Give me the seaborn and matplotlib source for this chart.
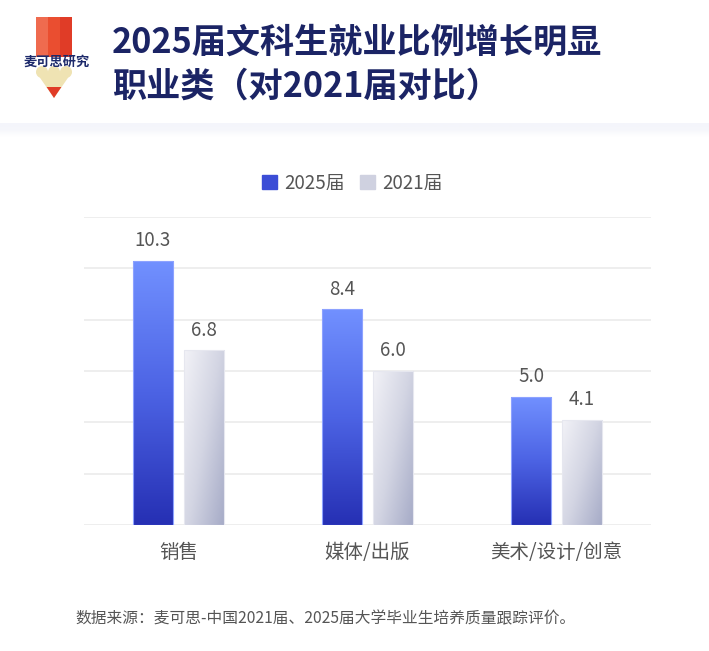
import numpy as np
import pandas as pd
import matplotlib
matplotlib.use("Agg")
import matplotlib.pyplot as plt
import seaborn as sns
from matplotlib.patches import Rectangle, Polygon, Circle, Patch
from matplotlib.colors import LinearSegmentedColormap

# ---------------- data ----------------
categories = ["销售", "媒体/出版", "美术/设计/创意"]
series_names = ["2025届", "2021届"]
values_2025 = [10.3, 8.4, 5.0]
values_2021 = [6.8, 6.0, 4.1]
yticks = [0, 2, 4, 6, 8, 10, 12]

title_lines = ["2025届文科生就业比例增长明显", "职业类（对2021届对比）"]
logo_text = "麦可思研究"
source_text = "数据来源：麦可思-中国2021届、2025届大学毕业生培养质量跟踪评价。"

df = pd.DataFrame({
    "cat": categories * 2,
    "series": [series_names[0]] * 3 + [series_names[1]] * 3,
    "value": values_2025 + values_2021,
})

sns.set_theme(style="white")
plt.rcParams["font.family"] = ["Noto Sans CJK SC", "DejaVu Sans"]

W, H = 709, 651
fig = plt.figure(figsize=(W / 100, H / 100), dpi=100)
fig.patch.set_facecolor("white")

# ---------------- background / header ----------------
bg = fig.add_axes([0, 0, 1, 1], zorder=0)
bg.set_xlim(0, W)
bg.set_ylim(H, 0)
bg.axis("off")

band = np.linspace(0, 1, 20).reshape(-1, 1)
band_cmap = LinearSegmentedColormap.from_list("band", ["#f4f5fb", "#f6f7fb", "#ffffff"])
bg.imshow(band, cmap=band_cmap, extent=[0, W, 137, 123], aspect="auto", zorder=1)

# logo pencil
stripe_cols = ["#ef6b4f", "#ea4e30", "#e03c27"]
for i, c in enumerate(stripe_cols):
    bg.add_patch(Rectangle((36 + i * 12, 17), 12, 40, facecolor=c, edgecolor="none", zorder=2))
beige = "#efe3b3"
for cx in (42, 54, 66):
    bg.add_patch(Circle((cx, 72), 6, facecolor=beige, edgecolor="none", zorder=2))
bg.add_patch(Polygon([(36, 72), (72, 72), (54, 98)], closed=True, facecolor=beige,
                     edgecolor="none", zorder=2))
bg.add_patch(Polygon([(46.6, 87), (61.4, 87), (54, 98)], closed=True, facecolor="#e03c27",
                     edgecolor="none", zorder=3))
bg.text(57, 61.5, logo_text, ha="center", va="center", fontsize=9.5, fontweight="bold",
        color="#1d2a6b", zorder=4)

# title
bg.text(112, 42, title_lines[0], ha="left", va="center", fontsize=24.6, fontweight="bold",
        color="#1b2465", zorder=4)
bg.text(112, 86, title_lines[1], ha="left", va="center", fontsize=24.6, fontweight="bold",
        color="#1b2465", zorder=4)

# source
bg.text(75, 619, source_text, ha="left", va="center", fontsize=11.3, color="#555555", zorder=4)

# ---------------- chart ----------------
ax = fig.add_axes([84 / W, 1 - 525 / H, 567 / W, 308 / H], zorder=2)
ax.patch.set_alpha(0)
sns.barplot(data=df, x="cat", y="value", hue="series", order=categories,
            hue_order=series_names, width=0.54, gap=0.216, ax=ax, legend=False,
            palette=["#4a5ee0", "#d0d2e0"], saturation=1)

ax.set_ylim(0, 12)
ax.set_xlim(-0.5, 2.5)
ax.set_yticks(yticks)
ax.set_yticklabels([])
ax.grid(axis="y", color="#ebebeb", linewidth=1.2)
ax.set_axisbelow(True)
for s in ax.spines.values():
    s.set_visible(False)
ax.tick_params(axis="x", length=0, pad=12, labelsize=14, labelcolor="#555555")
ax.tick_params(axis="y", length=0)
ax.set_xlabel("")
ax.set_ylabel("")

# gradient fills
blue_cmap = LinearSegmentedColormap.from_list("blue", ["#7190ff", "#4c63e4", "#2630b4"])
grey_cmap = LinearSegmentedColormap.from_list("grey", ["#f2f2f7", "#d3d5e3", "#a6abc7"])
ny, nx = 100, 30
yy, xx = np.mgrid[0:1:ny * 1j, 0:1:nx * 1j]
grad_blue = yy
grad_grey = 0.55 * xx + 0.45 * yy

for ci, cont in enumerate(ax.containers):
    for bar in cont:
        x0, y0 = bar.get_x(), bar.get_y()
        w, h = bar.get_width(), bar.get_height()
        bar.set_facecolor("none")
        if ci == 0:
            bar.set_edgecolor("#8da2ff")
            im = ax.imshow(grad_blue, cmap=blue_cmap, extent=[x0, x0 + w, y0, y0 + h],
                           origin="upper", aspect="auto", zorder=2, interpolation="bilinear")
        else:
            bar.set_edgecolor("#e6e7ef")
            im = ax.imshow(grad_grey, cmap=grey_cmap, extent=[x0, x0 + w, y0, y0 + h],
                           origin="upper", aspect="auto", zorder=2, interpolation="bilinear")
        im.set_clip_path(bar)
        bar.set_linewidth(0.8)
        bar.set_zorder(3)
    ax.bar_label(cont, fmt="%.1f", padding=7, fontsize=13.5, color="#555555")

ax.set_xlim(-0.5, 2.5)
ax.set_ylim(0, 12)

# legend
handles = [Patch(facecolor="#3b4dd6", edgecolor="#3b4dd6"),
           Patch(facecolor="#cfd1e0", edgecolor="#cfd1e0")]
leg = fig.legend(handles, series_names, loc="center", bbox_to_anchor=(352 / W, 1 - 183 / H),
                 ncol=2, frameon=False, fontsize=13.5, handlelength=0.8, handleheight=0.8,
                 handletextpad=0.4, columnspacing=0.8)
for t in leg.get_texts():
    t.set_color("#555555")

fig.savefig("out.png", dpi=100, facecolor="white")
